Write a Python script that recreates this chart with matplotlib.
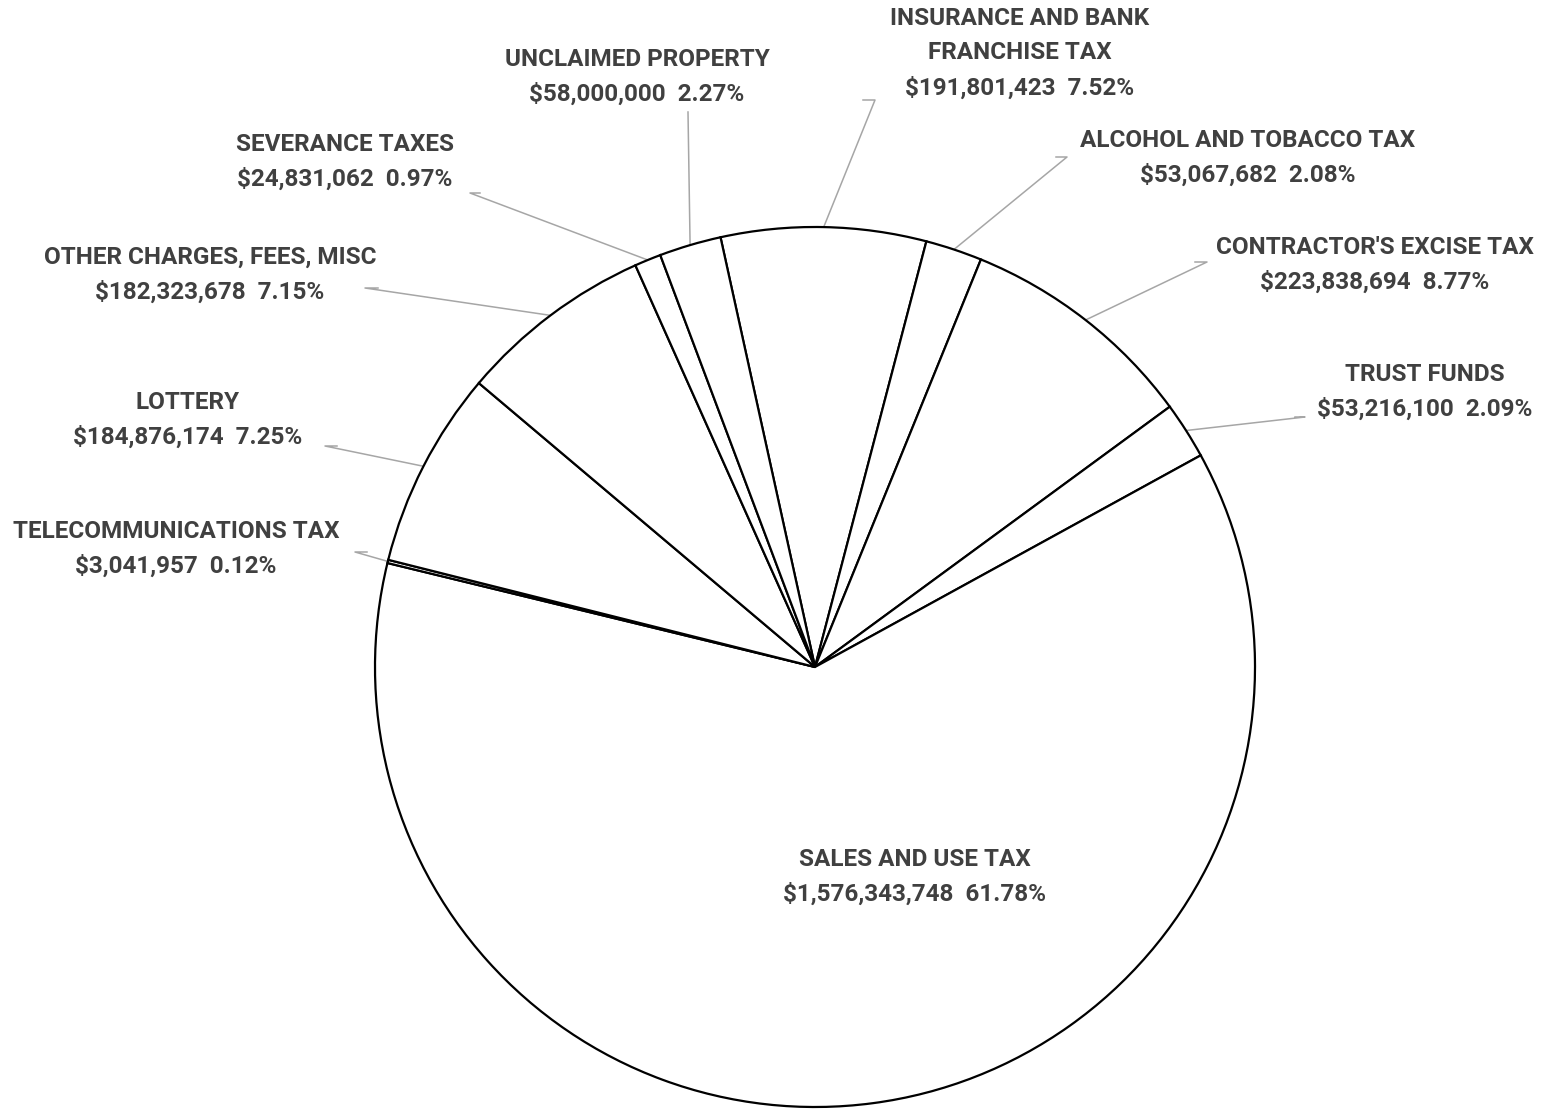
import numpy as np
import matplotlib.pyplot as plt

# -------------------------------
# DATA (clockwise from the top)
# -------------------------------

categories = [
    "INSURANCE AND BANK\nFRANCHISE TAX",
    "ALCOHOL AND TOBACCO TAX",
    "CONTRACTOR'S EXCISE TAX",
    "TRUST FUNDS",
    "SALES AND USE TAX",
    "TELECOMMUNICATIONS TAX",
    "LOTTERY",
    "OTHER CHARGES, FEES, MISC",
    "SEVERANCE TAXES",
    "UNCLAIMED PROPERTY",
]
amounts = [191801423, 53067682, 223838694, 53216100, 1576343748,
           3041957, 184876174, 182323678, 24831062, 58000000]
percents = ["7.52%", "2.08%", "8.77%", "2.09%", "61.78%",
            "0.12%", "7.25%", "7.15%", "0.97%", "2.27%"]

# label centres and leader elbows, in picture pixels (x right, y down)
label_xy = [(1020, 53), (1248, 158), (1375, 265), (1425, 392), (915, 877),
            (176, 549), (188, 420), (210, 275), (345, 162), (637, 77)]
elbow_xy = [(875, 100), (1067, 157), (1207, 262), (1305, 417), None,
            (355, 552), (325, 446), (365, 288), (470, 193), (688, 112)]
elbow_len = [-12, -11, -12, -10, 0, 12, 12, 13, 10, 0]

W, H = 1559, 1110
cx, cy, R = 815, H - 667, 440

fig = plt.figure(figsize=(W / 100, H / 100), dpi=100)
ax = fig.add_axes([0, 0, 1, 1])

wedges, _ = ax.pie(amounts, center=(cx, cy), radius=R, startangle=102.4,
                   counterclock=False, colors=["white"] * len(amounts),
                   wedgeprops=dict(edgecolor="black", linewidth=1.6))
ax.set_xlim(0, W)
ax.set_ylim(0, H)
ax.set_aspect("equal")
ax.axis("off")

for i, w in enumerate(wedges):
    txt = f"{categories[i]}\n${amounts[i]:,}  {percents[i]}"
    lx, ly = label_xy[i]
    ax.text(lx, H - ly, txt, ha="center", va="center", fontsize=17.5,
            fontweight="bold", family="Roboto", color="#404040",
            linespacing=1.65)
    if elbow_xy[i] is None:
        continue
    mid = np.deg2rad((w.theta1 + w.theta2) / 2)
    px, py = cx + R * np.cos(mid), cy + R * np.sin(mid)
    ex, ey = elbow_xy[i]
    ax.plot([ex + elbow_len[i], ex, px], [H - ey, H - ey, py],
            color="#a6a6a6", linewidth=1.1, zorder=0.5)

plt.savefig("out.png", dpi=100)
